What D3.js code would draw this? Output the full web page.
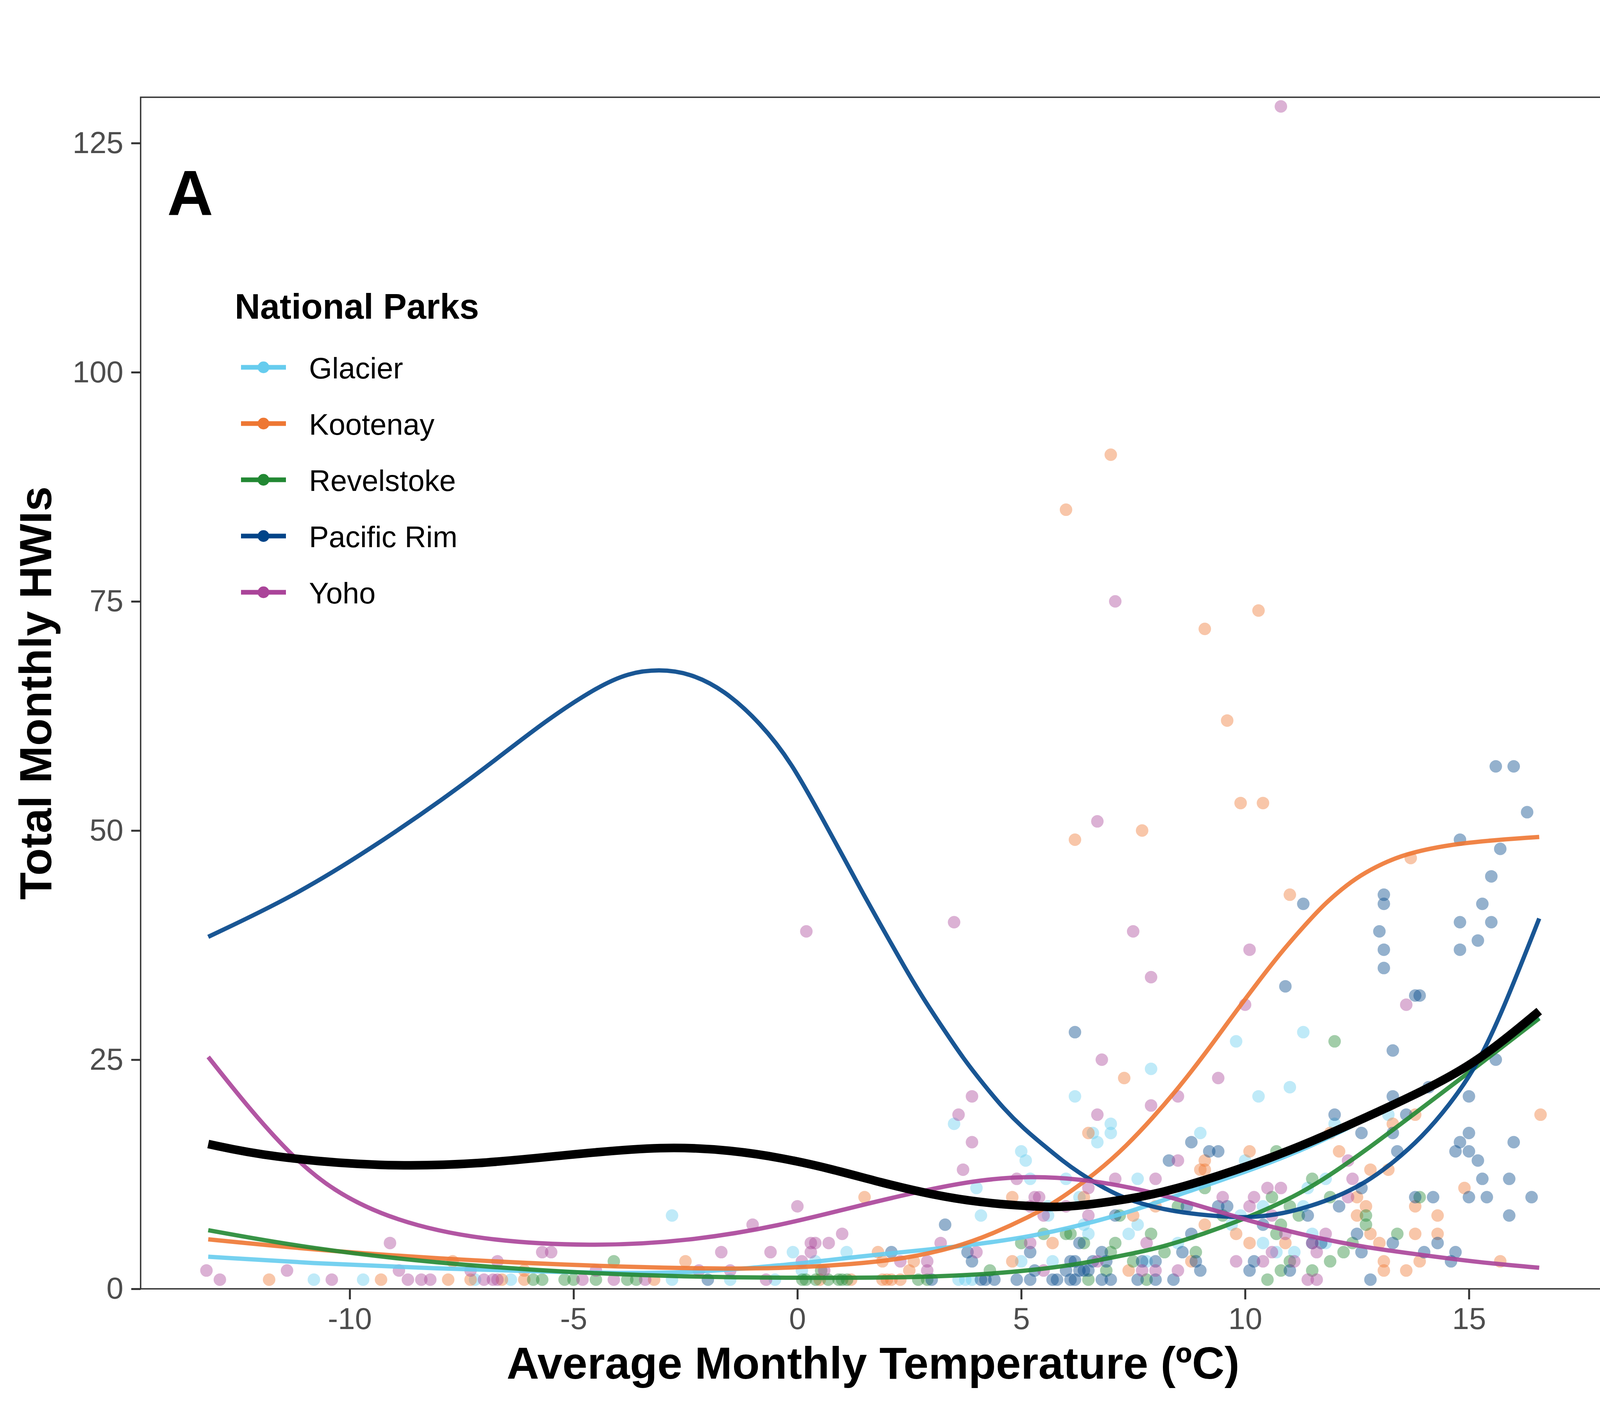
<!DOCTYPE html>
<html>
<head>
<meta charset="utf-8">
<script src="https://cdn.jsdelivr.net/npm/d3@7"></script>
<style>
  body { margin: 0; background: #fff; }
  text { font-family: "Liberation Sans", Arial, sans-serif; }
</style>
</head>
<body>
<script>
// HWIs per month vs temperature, one smooth per park + overall smooth

const parks = ['Glacier', 'Kootenay', 'Revelstoke', 'Pacific Rim', 'Yoho']
const parkColors = ['#66CCEE', '#EE7733', '#228833', '#004488', '#AA4499']

const xTicks = [-10, -5, 0, 5, 10, 15]
const yTicks = [0, 25, 50, 75, 100, 125]

// observed points, [temperature, HWIs]
const glacierPts = [
  [-10.8, 1], [-9.7, 1], [-7.2, 1], [-6.4, 1], [-2.8, 8], [-2.8, 1], [-1.5, 1], [-0.5, 1], [-0.1, 4],
  [1.1, 4], [0.4, 3], [0.1, 2], [3.5, 18], [4.0, 11], [5.0, 15], [5.1, 14], [5.2, 12], [4.1, 8],
  [6.2, 21], [7.9, 24], [7.0, 18], [7.0, 17], [6.6, 17], [6.7, 16], [6.0, 12], [7.6, 12], [5.6, 9],
  [5.6, 8], [6.3, 10], [7.6, 7], [7.4, 6], [6.4, 7], [6.5, 6], [5.0, 3], [5.7, 3], [3.6, 1], [3.75, 1],
  [3.9, 1], [7.8, 3], [10.3, 21], [11.0, 22], [9.0, 17], [12.0, 18], [13.2, 19], [10.0, 14], [11.8, 12],
  [11.4, 11], [10.4, 9], [11.3, 9], [9.9, 8], [9.7, 7], [8.5, 5], [10.4, 5], [11.5, 6], [10.7, 4],
  [11.1, 4], [11.8, 5], [11.3, 28], [9.8, 27]
]
const kootenayPts = [
  [-11.8, 1], [-9.3, 1], [-7.8, 1], [-7.7, 3], [-7.3, 1], [-6.6, 1], [-6.1, 1], [-6.1, 2], [-3.2, 1],
  [-2.5, 3], [1.5, 10], [1.8, 4], [1.9, 3], [2.6, 3], [2.5, 2], [1.9, 1], [2.0, 1], [2.1, 1], [2.3, 1],
  [0.5, 1], [1.2, 1], [4.8, 10], [4.8, 3], [7.3, 23], [6.5, 17], [6.4, 10], [5.7, 5], [7.5, 8], [8.0, 9],
  [7.4, 2], [16.6, 19], [13.8, 19], [13.3, 18], [10.1, 15], [12.1, 15], [9.1, 14], [9.0, 13], [9.1, 13],
  [12.8, 13], [13.2, 13], [14.9, 11], [12.5, 10], [12.7, 9], [13.8, 9], [12.5, 8], [14.3, 8], [9.1, 7],
  [9.8, 6], [12.8, 6], [13.8, 6], [14.3, 6], [10.1, 5], [10.9, 5], [13.0, 5], [8.8, 3], [13.1, 3],
  [13.9, 3], [15.7, 3], [13.1, 2], [13.6, 2], [11.9, 17], [9.9, 53], [10.4, 53], [6.2, 49], [7.7, 50],
  [13.7, 47], [11.0, 43], [7.0, 91], [6.0, 85], [10.3, 74], [9.1, 72], [9.6, 62]
]
const revelstokePts = [
  [-5.9, 1], [-5.7, 1], [-5.2, 1], [-5.0, 1], [-4.5, 1], [-4.1, 3], [-3.8, 1], [-3.6, 1],
  [0.11, 1], [0.19, 1], [0.41, 1], [0.69, 1], [0.92, 1], [1.0, 1], [1.11, 1], [0.53, 2], [2.7, 1],
  [2.9, 1], [4.3, 2], [5.0, 5], [5.5, 6], [6.0, 6], [6.1, 6], [6.4, 5], [6.5, 1], [7.9, 6], [7.1, 5],
  [7.0, 4], [7.2, 8], [6.9, 2], [7.5, 3], [7.8, 1], [8.2, 4], [10.7, 15], [11.5, 12], [9.1, 11],
  [10.6, 10], [11.9, 10], [13.9, 10], [8.5, 9], [11.0, 9], [11.2, 8], [12.7, 8], [9.5, 8], [12.7, 7],
  [10.8, 7], [10.7, 6], [13.4, 6], [12.4, 5], [8.9, 4], [12.2, 4], [11.9, 3], [11.0, 3], [11.5, 2],
  [10.8, 2], [10.5, 1], [12.0, 27]
]
const pacificPts = [
  [-2.0, 1], [2.1, 4], [3.0, 1], [3.3, 7], [3.8, 4], [3.9, 3], [4.1, 1], [4.2, 1], [4.4, 1], [4.9, 1],
  [5.2, 1], [5.2, 4], [5.3, 2], [5.7, 1], [5.8, 1], [6.1, 1], [6.2, 1], [6.1, 3], [6.2, 3], [6.0, 2],
  [6.3, 2], [6.4, 2], [6.5, 2], [6.3, 5], [6.8, 4], [6.6, 3], [6.9, 3], [6.8, 1], [7.0, 1], [7.1, 8],
  [7.7, 3], [7.6, 1], [8.0, 1], [8.3, 14], [8.0, 3], [13.3, 26], [15.6, 25], [14.1, 22], [13.3, 21],
  [15.0, 21], [12.0, 19], [13.6, 19], [12.6, 17], [13.3, 17], [15.0, 17], [8.8, 16], [14.8, 16],
  [16.0, 16], [9.2, 15], [9.4, 15], [13.4, 15], [14.7, 15], [15.0, 15], [15.2, 14], [15.3, 12],
  [15.9, 12], [12.6, 11], [13.8, 10], [14.2, 10], [15.0, 10], [15.4, 10], [16.4, 10], [9.4, 9],
  [9.6, 9], [8.7, 9], [12.1, 9], [11.4, 8], [15.9, 8], [10.4, 7], [8.8, 6], [12.5, 6], [13.3, 5],
  [14.3, 5], [11.5, 5], [11.7, 5], [8.6, 4], [12.6, 4], [14.0, 4], [14.7, 4], [8.9, 3], [14.6, 3],
  [10.2, 3], [9.0, 2], [10.1, 2], [11.0, 2], [8.4, 1], [12.8, 1], [15.6, 57], [16.0, 57], [16.3, 52],
  [14.8, 49], [15.7, 48], [15.5, 45], [11.3, 42], [13.1, 43], [13.1, 42], [15.3, 42], [14.8, 40],
  [15.5, 40], [13.0, 39], [15.2, 38], [13.1, 37], [14.8, 37], [13.1, 35], [10.9, 33], [13.8, 32],
  [13.9, 32], [6.2, 28]
]
const yohoPts = [
  [-13.2, 2], [-12.9, 1], [-11.4, 2], [-10.4, 1], [-9.1, 5], [-8.9, 2], [-8.7, 1], [-8.4, 1], [-8.2, 1],
  [-7.3, 2], [-7.0, 1], [-6.8, 1], [-6.7, 1], [-6.7, 3], [-5.7, 4], [-5.5, 4], [-4.8, 1], [-4.5, 2],
  [-4.1, 1], [-3.4, 1], [-2.2, 2], [-1.7, 4], [-1.5, 2], [-1.0, 7], [-0.7, 1], [-0.6, 4], [0.0, 9],
  [0.3, 5], [0.4, 5], [0.7, 5], [0.3, 4], [1.0, 6], [0.1, 3], [0.6, 2], [2.3, 3], [2.9, 3], [2.9, 2],
  [3.2, 5], [3.9, 21], [3.6, 19], [3.9, 16], [3.7, 13], [4.0, 4], [4.9, 12], [5.3, 10], [5.4, 10],
  [5.2, 9], [5.5, 8], [5.2, 5], [5.5, 2], [6.0, 9], [6.5, 11], [6.5, 8], [6.8, 25], [6.7, 19], [7.9, 20],
  [7.1, 12], [8.0, 12], [6.7, 3], [7.8, 5], [7.7, 2], [8.0, 2], [9.4, 23], [8.5, 21], [8.5, 14],
  [12.3, 14], [10.5, 11], [10.8, 11], [9.5, 10], [12.4, 12], [10.2, 10], [10.1, 9], [12.3, 10],
  [10.6, 8], [10.9, 6], [11.8, 6], [11.5, 5], [10.6, 4], [11.6, 4], [9.8, 3], [10.4, 3], [11.1, 3],
  [8.5, 2], [11.4, 1], [11.6, 1], [6.7, 51], [3.5, 40], [7.5, 39], [10.1, 37], [7.9, 34], [13.6, 31],
  [10.0, 31], [10.8, 129], [7.1, 75], [0.2, 39]
]

// fitted smooths, [temperature, HWIs]
const glacierFit = [
  [-13.16, 3.5], [-10.9, 2.8], [-8.05, 2.2], [-5.2, 1.8], [-3.5, 1.7], [-2.4, 1.8], [-1.2, 2.2],
  [-0.36, 2.6], [0.16, 2.8], [1.3, 3.5], [2.97, 4.3], [4.09, 4.9], [5.2, 5.7], [6.31, 6.9], [7.43, 8.4],
  [8.36, 10.0], [10.22, 13.1], [11.46, 15.5], [12.7, 18.5], [13.94, 21.6], [15.19, 25.0], [16.57, 29.6]
]
const kootenayFit = [
  [-13.16, 5.4], [-10.9, 4.3], [-8.05, 3.3], [-5.2, 2.6], [-2.4, 2.2], [-0.36, 2.2], [1.3, 2.7],
  [2.4, 3.3], [3.53, 4.5], [4.36, 6.0], [5.2, 7.9], [5.76, 9.4], [6.72, 12.8], [7.35, 15.6],
  [7.93, 18.6], [8.51, 21.9], [9.1, 25.6], [9.68, 29.5], [10.26, 33.3], [10.85, 37.0], [11.43, 40.2],
  [11.82, 42.2], [12.28, 44.1], [12.67, 45.4], [13.2, 46.7], [13.7, 47.6], [14.8, 48.7], [16.57, 49.3]
]
const revelstokeFit = [
  [-13.16, 6.4], [-10.9, 4.4], [-8.05, 2.8], [-5.2, 1.8], [-2.4, 1.3], [-0.36, 1.2], [2.4, 1.2],
  [4.09, 1.55], [5.2, 2.0], [6.31, 2.7], [7.43, 3.8], [8.36, 4.75], [10.22, 8.0], [11.46, 10.9],
  [12.7, 15.1], [13.94, 19.7], [15.19, 24.3], [16.57, 29.5]
]
const pacificFit = [
  [-13.16, 38.4], [-11.26, 42.8], [-9.56, 47.9], [-7.86, 53.6], [-6.72, 57.8], [-5.59, 62.1],
  [-4.46, 65.7], [-3.77, 67.2], [-3.09, 67.6], [-2.41, 67.2], [-1.62, 65.3], [-0.82, 61.7],
  [-0.14, 57.5], [0.58, 51.1], [1.04, 47.0], [1.49, 42.9], [1.93, 39.1], [2.38, 35.2], [2.82, 31.6],
  [3.27, 28.3], [3.71, 25.1], [4.16, 22.3], [4.6, 19.7], [5.05, 17.5], [5.49, 15.7], [5.94, 13.9],
  [6.25, 12.8], [6.87, 10.9], [7.43, 9.6], [8.36, 8.4], [9.6, 7.8], [10.22, 7.8], [10.84, 8.2],
  [11.46, 9.0], [12.08, 10.1], [12.7, 11.6], [13.32, 13.8], [13.94, 16.5], [14.56, 20.0],
  [15.19, 24.4], [15.77, 30.5], [16.57, 40.4]
]
const yohoFit = [
  [-13.16, 25.3], [-12.3, 20.0], [-11.36, 14.8], [-10.4, 10.7], [-9.0, 7.4], [-7.1, 5.3], [-4.6, 4.6],
  [-2.4, 5.2], [-0.36, 6.9], [1.3, 9.0], [2.97, 10.9], [4.09, 11.9], [5.2, 12.3], [6.31, 12.0],
  [7.43, 11.1], [8.36, 10.0], [10.22, 7.2], [11.46, 5.7], [12.7, 4.5], [13.94, 3.7], [15.19, 2.9],
  [16.57, 2.3]
]
const overallFit = [
  [-13.16, 15.8], [-11.83, 14.4], [-9.28, 13.3], [-7.1, 13.6], [-5.2, 14.6], [-2.94, 15.6],
  [-1.43, 15.1], [-0.36, 14.3], [0.75, 13.1], [1.86, 11.6], [2.97, 10.3], [4.09, 9.4], [5.2, 9.0],
  [5.76, 8.9], [6.31, 9.05], [7.43, 9.8], [8.36, 10.7], [10.22, 13.6], [11.46, 16.0], [12.7, 18.7],
  [13.94, 21.5], [15.19, 24.7], [16.57, 30.3]
]

const parkPts = [glacierPts, kootenayPts, revelstokePts, pacificPts, yohoPts]
const parkFits = [glacierFit, kootenayFit, revelstokeFit, pacificFit, yohoFit]

const width = 4116
const height = 3600
const panel = { left: 360, right: 4110, top: 249, bottom: 3300 }
const tickColor = '#333333'
const labelColor = '#4D4D4D'

const svg = d3.select('body')
  .append('svg')
  .attr('width', width)
  .attr('height', height)

svg.append('rect')
  .attr('width', width)
  .attr('height', height)
  .attr('fill', '#fff')

const x = d3.scaleLinear().domain([-14.67, 18.05]).range([panel.left, panel.right])
const y = d3.scaleLinear().domain([0, 130]).range([panel.bottom, panel.top])

svg.append('clipPath')
  .attr('id', 'panel-clip')
  .append('rect')
  .attr('x', panel.left)
  .attr('y', panel.top)
  .attr('width', panel.right - panel.left)
  .attr('height', panel.bottom - panel.top)

const plot = svg.append('g').attr('clip-path', 'url(#panel-clip)')

// points
parks.forEach((p, i) => {
  plot.append('g')
    .selectAll('circle')
    .data(parkPts[i])
    .join('circle')
    .attr('cx', d => x(d[0]))
    .attr('cy', d => y(d[1]))
    .attr('r', 16)
    .attr('fill', parkColors[i])
    .attr('fill-opacity', 0.42)
})

const line = d3.line()
  .x(d => x(d[0]))
  .y(d => y(d[1]))
  .curve(d3.curveBasis)

// park smooths
parks.forEach((p, i) => {
  plot.append('path')
    .datum(parkFits[i])
    .attr('d', line)
    .attr('fill', 'none')
    .attr('stroke', parkColors[i])
    .attr('stroke-opacity', 0.9)
    .attr('stroke-width', 11)
})

// overall smooth
plot.append('path')
  .datum(overallFit)
  .attr('d', line)
  .attr('fill', 'none')
  .attr('stroke', '#000')
  .attr('stroke-width', 22)

// axes (plain hyphen for negatives, like the original)
const yAxis = svg.append('g')
  .attr('transform', `translate(${panel.left},0)`)
  .call(d3.axisLeft(y).tickValues(yTicks).tickFormat(d => String(d)).tickSize(24).tickPadding(20))
yAxis.select('.domain').remove()

const xAxis = svg.append('g')
  .attr('transform', `translate(0,${panel.bottom})`)
  .call(d3.axisBottom(x).tickValues(xTicks).tickFormat(d => String(d)).tickSize(27).tickPadding(21))
xAxis.select('.domain').remove()

svg.selectAll('.tick line')
  .attr('stroke', tickColor)
  .attr('stroke-width', 5)
svg.selectAll('.tick text')
  .attr('fill', labelColor)
  .style('font-size', '78px')
  .style('font-family', '"Liberation Sans", Arial, sans-serif')

svg.append('rect')
  .attr('x', panel.left)
  .attr('y', panel.top)
  .attr('width', panel.right - panel.left)
  .attr('height', panel.bottom - panel.top)
  .attr('fill', 'none')
  .attr('stroke', tickColor)
  .attr('stroke-width', 3.5)

// axis titles
svg.append('text')
  .attr('x', (panel.left + panel.right) / 2)
  .attr('y', 3530)
  .attr('text-anchor', 'middle')
  .style('font-size', '115px')
  .style('font-weight', 'bold')
  .text('Average Monthly Temperature (ºC)')

svg.append('text')
  .attr('transform', `translate(131,${(panel.top + panel.bottom) / 2}) rotate(-90)`)
  .attr('text-anchor', 'middle')
  .style('font-size', '115px')
  .style('font-weight', 'bold')
  .text('Total Monthly HWIs')

// panel tag
svg.append('text')
  .attr('x', 428)
  .attr('y', 551)
  .style('font-size', '163px')
  .style('font-weight', 'bold')
  .text('A')

// legend
const legend = svg.append('g')
legend.append('text')
  .attr('x', 601)
  .attr('y', 816)
  .style('font-size', '90px')
  .style('font-weight', 'bold')
  .text('National Parks')

parks.forEach((p, i) => {
  const cy = 940.5 + i * 144
  legend.append('line')
    .attr('x1', 617).attr('x2', 732)
    .attr('y1', cy).attr('y2', cy)
    .attr('stroke', parkColors[i])
    .attr('stroke-width', 12)
  legend.append('circle')
    .attr('cx', 674.5)
    .attr('cy', cy)
    .attr('r', 15)
    .attr('fill', parkColors[i])
  legend.append('text')
    .attr('x', 791)
    .attr('y', cy + 28)
    .style('font-size', '76px')
    .text(p)
})
</script>
</body>
</html>
